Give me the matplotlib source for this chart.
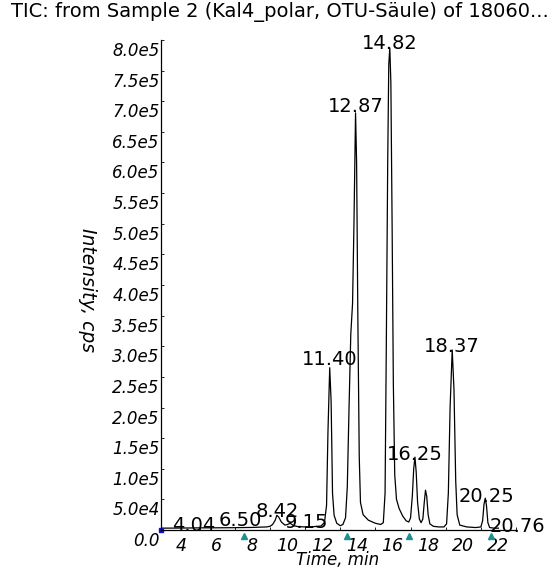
import matplotlib
matplotlib.use("Agg")
import matplotlib.pyplot as plt
import matplotlib.transforms as mtransforms

# -------------------------------
# data
# -------------------------------
time_min = [1.80, 3.0, 4.04, 5.0, 6.0, 6.50, 7.0, 7.8, 8.0, 8.15, 8.30, 8.39, 8.50,
            8.65, 8.85, 9.00, 9.15, 9.35, 9.6, 10.0, 10.5, 10.9, 11.10, 11.22, 11.30,
            11.40, 11.48, 11.56, 11.65, 11.80, 12.00, 12.15, 12.30, 12.40, 12.50,
            12.60, 12.70, 12.78, 12.87, 12.93, 13.00, 13.08, 13.15, 13.30, 13.60,
            14.00, 14.30, 14.45, 14.55, 14.62, 14.70, 14.76, 14.82, 14.88, 14.95,
            15.02, 15.10, 15.20, 15.35, 15.55, 15.75, 15.90, 16.00, 16.10, 16.18,
            16.25, 16.32, 16.40, 16.50, 16.60, 16.70, 16.78, 16.85, 16.92, 17.00,
            17.10, 17.30, 17.60, 17.90, 18.05, 18.15, 18.25, 18.37, 18.47, 18.57,
            18.65, 18.80, 19.20, 19.70, 20.00, 20.10, 20.18, 20.25, 20.32, 20.40,
            20.50, 20.76, 21.00]
intensity = [3000, 3200, 3500, 3600, 3800, 4000, 4200, 5000, 6000, 9000, 16000, 24000, 21000,
             13000, 8000, 9000, 11000, 7000, 5500, 5000, 5500, 6500, 12000, 40000, 160000,
             265000, 210000, 60000, 24000, 11000, 7000, 9000, 20000, 70000, 200000,
             320000, 370000, 500000, 681000, 600000, 350000, 120000, 45000, 25000, 16000,
             11000, 9000, 12000, 60000, 300000, 600000, 760000, 787000, 730000, 500000,
             240000, 90000, 50000, 35000, 23000, 15000, 13000, 20000, 55000, 100000,
             119000, 95000, 45000, 18000, 12000, 18000, 45000, 65000, 55000, 25000,
             10000, 6000, 5000, 5000, 10000, 60000, 200000, 294000, 230000, 80000,
             25000, 8000, 5000, 4000, 5000, 15000, 42000, 52000, 40000, 12000,
             4000, 3000, 3000]

# peak labels (text centre positions)
peak_names = ["4.04", "6.50", "8.42", "9.15", "11.40", "12.87", "14.82",
              "16.25", "18.37", "20.25", "20.76"]
peak_label_x = [3.68, 6.34, 8.39, 10.09, 11.40, 12.87, 14.82, 16.25, 18.37, 20.32, 22.08]
peak_label_y = [7000, 15000, 31000, 13000, 278000, 692000, 795000, 124000, 299000, 54000, 5000]

# teal event markers under the axis
event_times = [6.51, 12.37, 15.89, 20.60]

y_ticks = [0, 5e4, 1e5, 1.5e5, 2e5, 2.5e5, 3e5, 3.5e5, 4e5, 4.5e5, 5e5,
           5.5e5, 6e5, 6.5e5, 7e5, 7.5e5, 8e5]
y_tick_labels = ["0.0", "5.0e4", "1.0e5", "1.5e5", "2.0e5", "2.5e5", "3.0e5", "3.5e5",
                 "4.0e5", "4.5e5", "5.0e5", "5.5e5", "6.0e5", "6.5e5", "7.0e5",
                 "7.5e5", "8.0e5"]
x_ticks = [4, 6, 8, 10, 12, 14, 16, 18, 20, 22]

# -------------------------------
# figure
# -------------------------------
fig = plt.figure(figsize=(5.52, 5.71), dpi=100)
ax = fig.add_axes([161 / 552, 41 / 571, 355 / 552, 490 / 571])

ax.plot(time_min, intensity, color="black", lw=0.9)

for name, px, py in zip(peak_names, peak_label_x, peak_label_y):
    ax.text(px, py, name, ha="center", va="center", fontsize=14, color="black")

ax.plot(event_times, [-9000] * len(event_times), linestyle="none", marker="^",
        markersize=4, color="#1f9090", clip_on=False)
ax.plot([time_min[0]], [0], linestyle="none", marker="s", markersize=3,
        color="#1010d0", clip_on=False)

ax.set_xlim(1.8, 22.0)
ax.set_ylim(0, 8.0e5)
for s in ["top", "right"]:
    ax.spines[s].set_visible(False)
ax.spines["left"].set_linewidth(0.9)
ax.spines["bottom"].set_linewidth(0.9)

ax.set_yticks(y_ticks)
ax.set_yticklabels(y_tick_labels, fontsize=12, fontstyle="italic")
ax.set_xticks(x_ticks)
ax.set_xticklabels([str(v) for v in x_ticks], fontsize=12.5, fontstyle="italic")
ax.tick_params(axis="both", direction="in", length=2, width=0.6, pad=1)
ax.tick_params(axis="x", pad=5)

# the instrument software draws its labels a bit off the ticks
dy = mtransforms.ScaledTranslation(0, -9 / 100, fig.dpi_scale_trans)
for lab in ax.get_yticklabels():
    lab.set_transform(lab.get_transform() + dy)
dx = mtransforms.ScaledTranslation(-18 / 100, 0, fig.dpi_scale_trans)
for lab in ax.get_xticklabels():
    lab.set_transform(lab.get_transform() + dx)

fig.text(88 / 552, 1 - 290 / 571, "Intensity, cps", rotation=-90, fontsize=13.5,
         fontstyle="italic", ha="center", va="center")
fig.text(338 / 552, 1 - 560 / 571, "Time, min", fontsize=12, fontstyle="italic",
         ha="center", va="center")
fig.text(280 / 552, 1 - 12 / 571, "TIC: from Sample 2 (Kal4_polar, OTU-Säule) of 18060...",
         fontsize=14, ha="center", va="center")

fig.savefig("out.png", dpi=100)
